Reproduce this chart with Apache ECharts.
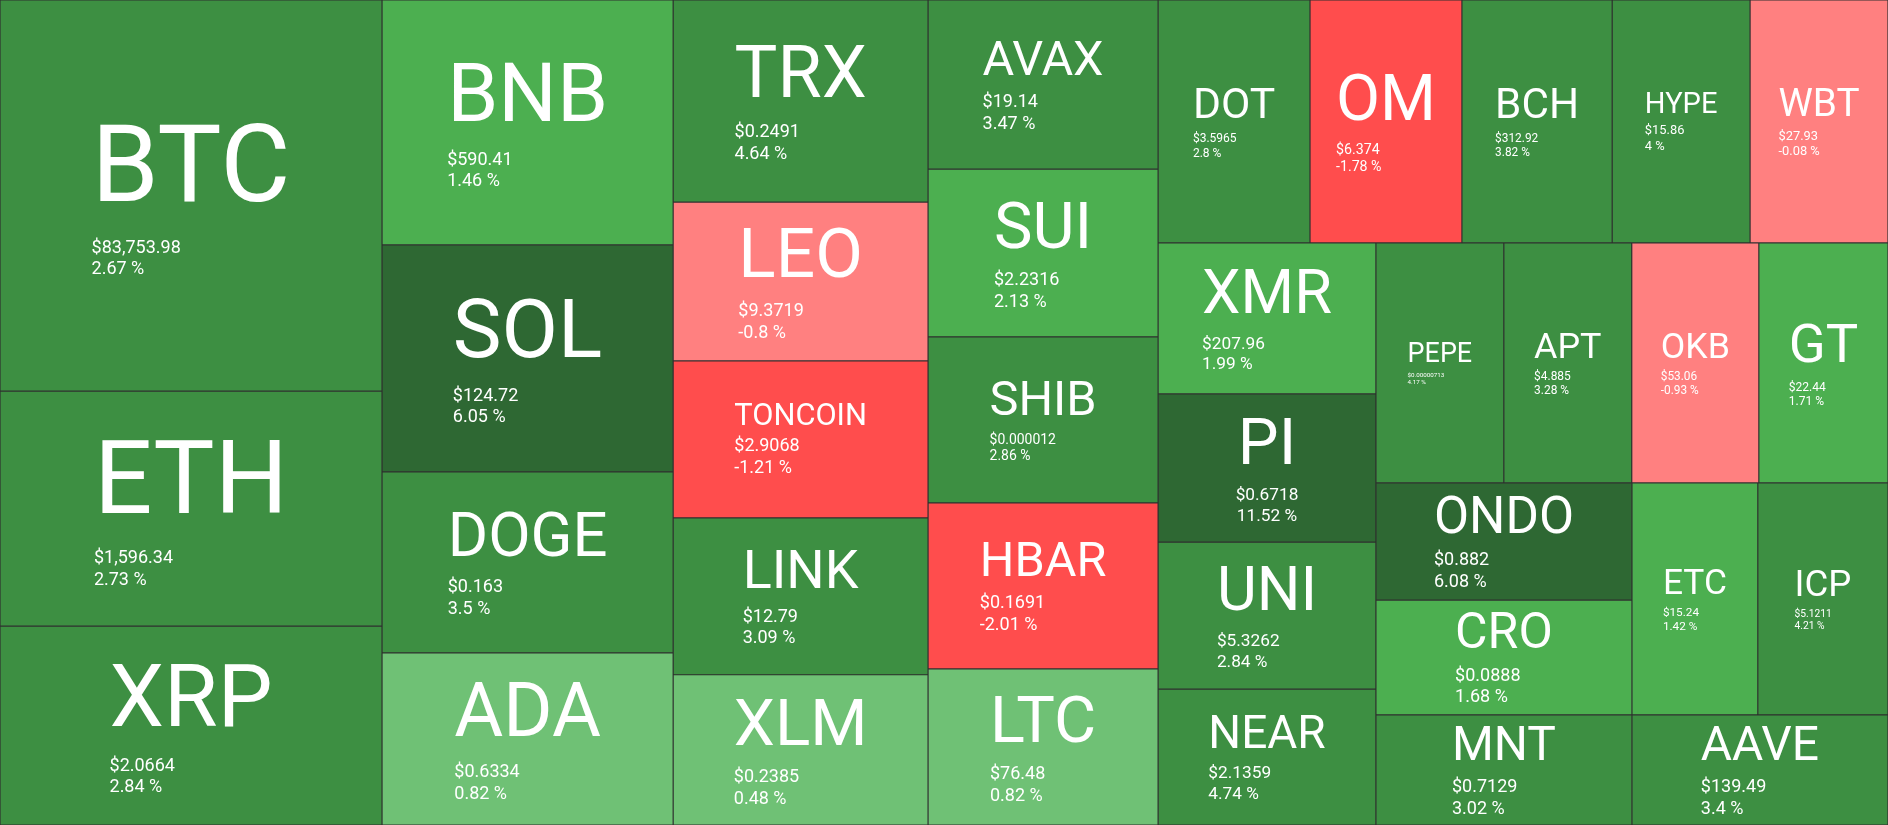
<!DOCTYPE html>
<html>
<head>
<meta charset="utf-8">
<script src="https://cdn.jsdelivr.net/npm/echarts@6/dist/echarts.min.js"></script>
<style>
html, body { margin: 0; padding: 0; background: #ffffff; }
#chart { width: 1888px; height: 825px; }
</style>
</head>
<body>
<div id="chart"></div>
<script>
// ---- data ----
const symbols = ['BTC','ETH','XRP','BNB','SOL','DOGE','ADA','TRX','LEO','TONCOIN','LINK','XLM',
  'AVAX','SUI','SHIB','HBAR','LTC','DOT','OM','BCH','HYPE','WBT','XMR','PI','UNI','NEAR',
  'PEPE','APT','OKB','GT','ONDO','CRO','MNT','ETC','ICP','AAVE'];
// relative tile weight (read from tile areas)
const weights = [149.4, 89.8, 76.0, 71.3, 66.1, 52.7, 50.1, 51.5, 40.5, 40.0, 40.0, 38.3,
  38.9, 38.6, 38.2, 38.2, 35.9, 36.9, 36.9, 36.5, 33.5, 33.5, 32.9, 32.3, 32.0, 29.6,
  30.7, 30.7, 30.5, 31.0, 30.0, 29.4, 28.2, 29.2, 30.2, 28.2];
const prices = ['$83,753.98','$1,596.34','$2.0664','$590.41','$124.72','$0.163','$0.6334','$0.2491',
  '$9.3719','$2.9068','$12.79','$0.2385','$19.14','$2.2316','$0.000012','$0.1691','$76.48',
  '$3.5965','$6.374','$312.92','$15.86','$27.93','$207.96','$0.6718','$5.3262','$2.1359',
  '$0.00000713','$4.885','$53.06','$22.44','$0.882','$0.0888','$0.7129','$15.24','$5.1211','$139.49'];
const changes = [2.67, 2.73, 2.84, 1.46, 6.05, 3.5, 0.82, 4.64, -0.8, -1.21, 3.09, 0.48,
  3.47, 2.13, 2.86, -2.01, 0.82, 2.8, -1.78, 3.82, 4, -0.08, 1.99, 11.52, 2.84, 4.74,
  4.17, 3.28, -0.93, 1.71, 6.08, 1.68, 3.02, 1.42, 4.21, 3.4];

// ---- styling ----
const FONT = 'Roboto';
const BORDER = '#2f2f2f';
function colorFor(c) {
  if (c >= 5) return '#2e6833';
  if (c >= 2.5) return '#3d8f42';
  if (c >= 1) return '#4caf50';
  if (c >= 0) return '#6fc175';
  if (c >= -1) return '#ff8080';
  return '#ff4d4d';
}

const chart = echarts.init(document.getElementById('chart'), null, { renderer: 'canvas' });

const baseData = symbols.map((s, i) => ({
  name: s,
  value: weights[i],
  price: prices[i],
  change: changes[i],
  itemStyle: { color: colorFor(changes[i]) }
}));

function buildOption(data) {
  return {
    animation: false,
    backgroundColor: '#ffffff',
    series: [{
      type: 'treemap',
      left: 0, top: 0, width: '100%', height: '100%',
      sort: false,
      roam: false,
      nodeClick: false,
      visibleMin: 0,
      breadcrumb: { show: false },
      upperLabel: { show: false },
      itemStyle: { borderColor: BORDER, borderWidth: 0.6, gapWidth: 0 },
      levels: [
        { itemStyle: { borderWidth: 0, gapWidth: 0 } },
        { itemStyle: { borderWidth: 0.6, borderColor: BORDER, gapWidth: 0 } }
      ],
      label: {
        show: true,
        position: 'inside',
        color: '#ffffff',
        fontFamily: FONT,
        formatter: function (p) {
          const d = p.data || {};
          return '{s|' + p.name + '}\n{p1|' + d.price + '}\n{p2|' + d.change + ' %}';
        },
        rich: {
          s: { fontSize: 30, color: '#fff', fontFamily: FONT },
          p1: { fontSize: 14, color: '#fff', fontFamily: FONT },
          p2: { fontSize: 14, color: '#fff', fontFamily: FONT }
        }
      },
      data: data
    }]
  };
}

chart.setOption(buildOption(baseData));

// second pass: size the labels to the tiles laid out by ECharts
const ctx = document.createElement('canvas').getContext('2d');
function tw(text, size) { ctx.font = size + 'px ' + FONT; return ctx.measureText(text).width; }

const sizes = {};
try {
  const tree = chart.getModel().getSeriesByIndex(0).getData().tree;
  tree.root.eachNode(function (n) {
    if (!n.children || !n.children.length) {
      const l = n.getLayout();
      if (l) sizes[n.name] = { w: l.width, h: l.height };
    }
  });
} catch (e) { /* keep defaults */ }

const sizedData = baseData.map(d => {
  const sz = sizes[d.name];
  if (!sz) return d;
  const W = sz.w - 1.2, H = sz.h - 1.2;
  const chg = d.change + ' %';
  const symFs = Math.min(0.85 * W / d.name.length, 0.44 * H);
  const pf = Math.min(18, 0.29 * W / (tw(d.price, 100) / 100));
  const symW = tw(d.name, symFs);
  const w1 = tw(d.price, pf), w2 = tw(chg, pf);
  const symLH = symFs * 1.18, pLH = pf * 1.2;
  const blockH = symLH + 2 * pLH;
  const top = Math.max(0, (H - blockH) / 2);
  return Object.assign({}, d, {
    label: {
      padding: [top, 0, 0, 0],
      rich: {
        s: { fontSize: symFs, lineHeight: symLH, color: '#fff', fontFamily: FONT },
        p1: { fontSize: pf, lineHeight: pLH, color: '#fff', fontFamily: FONT, padding: [0, Math.max(0, symW - w1), 0, 0] },
        p2: { fontSize: pf, lineHeight: pLH, color: '#fff', fontFamily: FONT, padding: [0, Math.max(0, symW - w2), 0, 0] }
      }
    }
  });
});

chart.setOption({ series: [{ data: sizedData }] });
</script>
</body>
</html>
